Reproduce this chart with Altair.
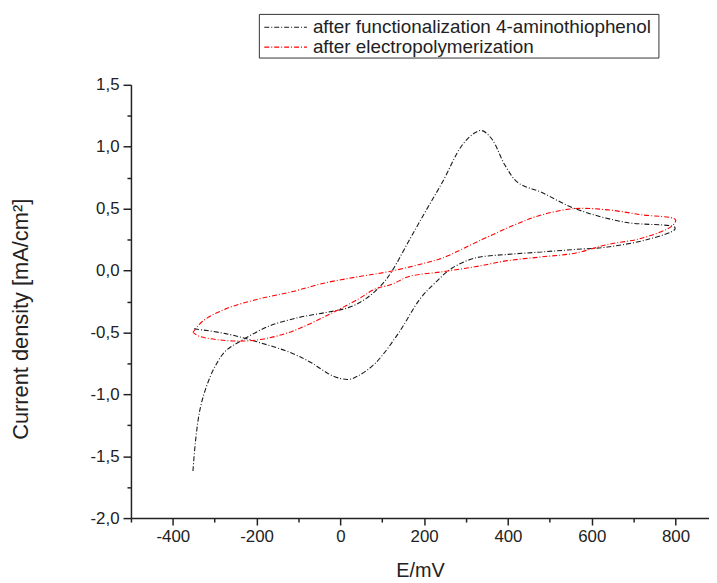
import altair as alt
import pandas as pd

series_names = ["after functionalization 4-aminothiophenol", "after electropolymerization"]
series_colors = ["#1a1a1a", "#ff0000"]
dash = [5, 2, 1, 2]

black_x = [-352, -345, -335, -321, -300, -274, -233, -171, -100, -36, 19, 60, 100, 124, 162, 202,
           243, 290, 320, 338, 362, 393, 424, 481, 560, 679, 798,
           798, 733, 638, 560, 481, 400, 321, 267, 226, 190, 138, 83, 43, 19, -19, -67, -114,
           -195, -274, -352]
black_y = [-1.62, -1.35, -1.12, -0.95, -0.78, -0.65, -0.56, -0.45, -0.38, -0.34, -0.30, -0.23,
           -0.11, 0.0, 0.23, 0.47, 0.71, 1.01, 1.11, 1.13, 1.06, 0.85, 0.71, 0.63, 0.50, 0.39,
           0.35, 0.33, 0.25, 0.19, 0.17, 0.15, 0.13, 0.10, 0.02, -0.10, -0.23, -0.51, -0.75,
           -0.85, -0.88, -0.85, -0.75, -0.67, -0.58, -0.51, -0.47]

red_x = [-352, -329, -274, -195, -155, -114, -36, 43, 114, 202, 243, 338, 417, 481, 560, 638,
         719, 800, 792, 719, 638, 560, 481, 400, 321, 243, 162, 124, 83, 43, -36, -114, -179,
         -233, -290, -338, -352]
red_y = [-0.50, -0.41, -0.31, -0.23, -0.20, -0.17, -0.10, -0.05, -0.01, 0.06, 0.10, 0.25, 0.37,
         0.45, 0.50, 0.49, 0.45, 0.41, 0.36, 0.26, 0.21, 0.14, 0.11, 0.08, 0.03, -0.01, -0.05,
         -0.11, -0.15, -0.23, -0.37, -0.49, -0.55, -0.57, -0.56, -0.53, -0.50]

x_ticks = list(range(-500, 900, 100))
y_ticks = [v / 4 for v in range(-8, 7)]

rows = []
for name, xs, ys in [(series_names[0], black_x, black_y), (series_names[1], red_x, red_y)]:
    for i, (xv, yv) in enumerate(zip(xs, ys)):
        rows.append({"series": name, "E": xv, "J": yv, "idx": i})
df = pd.DataFrame(rows)

FONT = "Liberation Sans"

lines = alt.Chart(df).mark_line(strokeWidth=1.1, interpolate="catmull-rom", strokeDash=dash).encode(
    x=alt.X("E:Q", scale=alt.Scale(domain=[-500, 880], nice=False, zero=False),
            axis=alt.Axis(title="E/mV", values=x_ticks, grid=False,
                          labelExpr="datum.value % 200 == 0 ? replace(format(datum.value, 'd'), '\u2212', '-') : ''",
                          tickSize={"condition": {"test": "datum.value % 200 == 0", "value": 7}, "value": 4},
                          titleFontSize=20, titlePadding=16)),
    y=alt.Y("J:Q", scale=alt.Scale(domain=[-2.0, 1.5], nice=False, zero=False),
            axis=alt.Axis(title="Current density [mA/cm\u00b2]", values=y_ticks, grid=False,
                          labelExpr="datum.value % 0.5 == 0 ? replace(replace(format(datum.value, '.1f'), '.', ','), '\u2212', '-') : ''",
                          tickSize={"condition": {"test": "datum.value % 0.5 == 0", "value": 8}, "value": 4},
                          titleFontSize=22, titlePadding=58, titleY=236)),
    color=alt.Color("series:N", scale=alt.Scale(domain=series_names, range=series_colors), legend=None),
    detail="series:N",
    order="idx:Q",
)

# custom legend (box, dash-dot symbols, labels)
leg_box = alt.Chart(pd.DataFrame({"k": [0]})).mark_rect(
    fill="white", stroke="#333", strokeWidth=1
).encode(x=alt.value(129.5), x2=alt.value(532.5), y=alt.value(-71), y2=alt.value(-27))

leg_rows = [-58, -38]
leg_layers = [leg_box]
for name, col, yy in zip(series_names, series_colors, leg_rows):
    d = pd.DataFrame({"label": [name]})
    leg_layers.append(
        alt.Chart(d).mark_rule(strokeWidth=1.1, strokeDash=dash, color=col).encode(
            x=alt.value(134.5), x2=alt.value(177.5), y=alt.value(yy))
    )
    leg_layers.append(
        alt.Chart(d).mark_text(align="left", baseline="middle", fontSize=19, font=FONT,
                               color="#222").encode(
            x=alt.value(183.5), y=alt.value(yy), text="label:N")
    )

chart = alt.layer(lines, *leg_layers).properties(
    width=583, height=437,
    autosize=alt.AutoSizeParams(type="none"),
    padding={"left": 124, "top": 75, "right": 0, "bottom": 63},
).configure_view(stroke=None).configure_axis(
    labelFont=FONT, titleFont=FONT, labelFontSize=17, labelColor="#222", titleColor="#222",
    titleFontWeight="normal", domainColor="#222", domainWidth=1.5, tickColor="#222",
    tickWidth=1.5, labelPadding=4,
)

chart.save("out.html", embed_options={"renderer": "svg", "actions": False})
